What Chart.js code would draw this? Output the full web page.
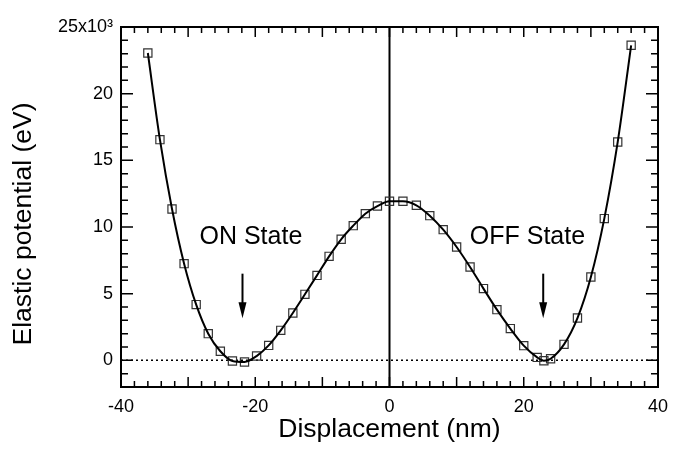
<!DOCTYPE html>
<html>
<head>
<meta charset="utf-8">
<script src="https://cdn.jsdelivr.net/npm/chart.js@4/dist/chart.umd.min.js"></script>
<style>
  html, body { margin: 0; padding: 0; background: #fff; }
</style>
</head>
<body>
<canvas id="chart01" width="682" height="450"></canvas>
<script>
// displacement (nm) and elastic potential (x10^3 eV)
const aDisplacement = [-36, -34.2, -32.4, -30.6, -28.8, -27, -25.2, -23.4, -21.6, -19.8, -18, -16.2, -14.4, -12.6, -10.8, -9, -7.2, -5.4, -3.6, -1.8, 0,
    2, 4, 6, 8, 10, 12, 14, 16, 18, 20, 22, 23, 24, 26, 28, 30, 32, 34, 36];
const aPotential = [23.05, 16.55, 11.35, 7.25, 4.18, 2.0, 0.68, -0.05, -0.12, 0.32, 1.12, 2.25, 3.55, 4.95, 6.37, 7.8, 9.08, 10.1, 11.0, 11.57, 11.93,
    11.93, 11.63, 10.85, 9.8, 8.5, 7.0, 5.38, 3.8, 2.38, 1.1, 0.22, -0.03, 0.12, 1.2, 3.17, 6.25, 10.63, 16.38, 23.63];

// annotations
const aStateLabels = ["ON State", "OFF State"];
const aStateX = [-20.65, 20.55];
const aStateY = [9.25, 9.25];
const aArrowX = [-21.9, 22.9];
const aArrowTop = [6.5, 6.5];
const aArrowBottom = [3.15, 3.15];

const sFont = "'Liberation Sans', Arial, Helvetica, sans-serif";
const sYTitle = "Elastic potential (eV)";

const aPoints = aDisplacement.map((x, i) => ({ x: x, y: aPotential[i] }));

// frame, inward ticks, reference lines, arrows and labels
const framePlugin = {
    id: "frame",
    beforeDatasetsDraw(chart) {
        const { ctx, chartArea: a, scales: { x, y } } = chart;
        ctx.save();
        // dotted zero line
        ctx.strokeStyle = "#000";
        ctx.lineWidth = 1.5;
        ctx.setLineDash([2, 3]);
        ctx.beginPath();
        ctx.moveTo(a.left, y.getPixelForValue(0));
        ctx.lineTo(a.right, y.getPixelForValue(0));
        ctx.stroke();
        ctx.setLineDash([]);
        // vertical line at x = 0
        ctx.lineWidth = 2;
        ctx.beginPath();
        ctx.moveTo(x.getPixelForValue(0), a.top);
        ctx.lineTo(x.getPixelForValue(0), a.bottom);
        ctx.stroke();
        ctx.restore();
    },
    afterDatasetsDraw(chart) {
        const { ctx, chartArea: a, scales: { x, y } } = chart;
        ctx.save();
        ctx.strokeStyle = "#000";
        ctx.fillStyle = "#000";
        ctx.lineWidth = 1.5;
        ctx.beginPath();
        for (let v = -40; v <= 40; v += 2) {
            const px = x.getPixelForValue(v);
            const len = v % 10 === 0 ? 10 : 6;
            ctx.moveTo(px, a.bottom); ctx.lineTo(px, a.bottom - len);
            ctx.moveTo(px, a.top); ctx.lineTo(px, a.top + len);
        }
        for (let v = -2; v <= 25; v += 1) {
            const py = y.getPixelForValue(v);
            const len = v % 5 === 0 ? 12 : 7;
            ctx.moveTo(a.left, py); ctx.lineTo(a.left + len, py);
            ctx.moveTo(a.right, py); ctx.lineTo(a.right - len, py);
        }
        ctx.stroke();

        ctx.lineWidth = 2;
        ctx.strokeRect(a.left, a.top, a.right - a.left, a.bottom - a.top);

        // arrows
        aArrowX.forEach((v, i) => {
            const px = x.getPixelForValue(v);
            const pt = y.getPixelForValue(aArrowTop[i]);
            const pb = y.getPixelForValue(aArrowBottom[i]);
            ctx.lineWidth = 2;
            ctx.beginPath();
            ctx.moveTo(px, pt);
            ctx.lineTo(px, pb - 14);
            ctx.stroke();
            ctx.beginPath();
            ctx.moveTo(px - 4, pb - 16);
            ctx.lineTo(px + 4, pb - 16);
            ctx.lineTo(px, pb);
            ctx.closePath();
            ctx.fill();
        });

        // state labels
        ctx.font = "25px " + sFont;
        ctx.textAlign = "center";
        ctx.textBaseline = "middle";
        aStateLabels.forEach((s, i) => {
            ctx.fillText(s, x.getPixelForValue(aStateX[i]), y.getPixelForValue(aStateY[i]));
        });

        // y axis title, sitting a little below the plot centre as in the figure
        ctx.font = "26.5px " + sFont;
        ctx.translate(24, 224);
        ctx.rotate(-Math.PI / 2);
        ctx.fillText(sYTitle, 0, 0);
        ctx.restore();
    }
};

const ctx = document.getElementById("chart01");

new Chart(ctx, {
    type: "scatter",
    data: {
        datasets: [
            {
                label: "fit",
                data: aPoints,
                showLine: true,
                borderColor: "#000",
                borderWidth: 2,
                pointRadius: 0,
                cubicInterpolationMode: "monotone",
                fill: false
            },
            {
                label: "Elastic potential",
                data: aPoints,
                showLine: false,
                pointStyle: "rect",
                pointRadius: 5.8,
                borderWidth: 1.2,
                borderColor: "#333",
                backgroundColor: "rgba(0,0,0,0)"
            }
        ]
    },
    options: {
        responsive: false,
        animation: false,
        layout: { padding: { top: 27, right: 24, left: 0, bottom: 0 } },
        plugins: {
            legend: { display: false },
            tooltip: { enabled: false }
        },
        scales: {
            x: {
                type: "linear",
                min: -40,
                max: 40,
                grid: { display: false, drawTicks: false },
                border: { display: false },
                ticks: {
                    stepSize: 20,
                    padding: 9,
                    color: "#000",
                    font: { family: sFont, size: 18 }
                },
                title: {
                    display: true,
                    text: "Displacement (nm)",
                    color: "#000",
                    font: { family: sFont, size: 26.5 },
                    padding: { top: 0, bottom: 4 }
                },
                afterFit(scale) { scale.height = 63; }
            },
            y: {
                type: "linear",
                min: -2,
                max: 25,
                grid: { display: false, drawTicks: false },
                border: { display: false },
                ticks: {
                    stepSize: 5,
                    includeBounds: false,
                    padding: 8,
                    color: "#000",
                    font: { family: sFont, size: 18 },
                    callback: v => (v === 25 ? "25x10\u00B3" : v)
                },
                title: { display: false },
                afterFit(scale) { scale.width = 121; }
            }
        }
    },
    plugins: [framePlugin]
});
</script>
</body>
</html>
